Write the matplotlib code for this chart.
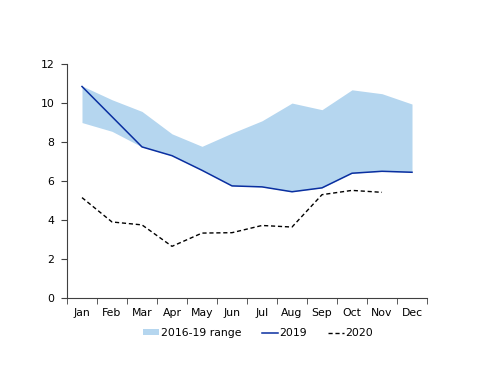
import numpy as np
import matplotlib.pyplot as plt

months = ['Jan', 'Feb', 'Mar', 'Apr', 'May', 'Jun', 'Jul', 'Aug', 'Sep', 'Oct', 'Nov', 'Dec']
range_low = [9.0, 8.55, 7.75, 7.3, 6.55, 5.75, 5.7, 5.45, 5.65, 6.4, 6.5, 6.45]
range_high = [10.88, 10.17, 9.57, 8.42, 7.78, 8.46, 9.09, 10.0, 9.66, 10.68, 10.48, 9.95]
y2019 = [10.85, 9.3, 7.75, 7.3, 6.55, 5.75, 5.7, 5.45, 5.65, 6.4, 6.5, 6.45]
y2020 = [5.15, 3.9, 3.75, 2.65, 3.33, 3.35, 3.72, 3.64, 5.3, 5.52, 5.42]

plt.rcParams['font.size'] = 7.8

fig = plt.figure(figsize=(5, 3.86), dpi=100)
ax = fig.add_axes([0.134, 0.228, 0.72, 0.606])

x = np.arange(len(months))
ax.fill_between(x, range_low, range_high, color='#b5d6ef', lw=0, label='2016-19 range')
ax.plot(x, y2019, color='#0a2fa0', lw=1.1, label='2019')
ax.plot(x[:len(y2020)], y2020, color='black', lw=1.0, ls=(0, (3, 2)), label='2020')

ax.set_xlim(-0.5, 11.5)
ax.set_ylim(0, 12)
ax.set_yticks(range(0, 13, 2))
ax.set_xticks(x)
ax.set_xticklabels(months)
ax.set_xticks(np.arange(-0.5, 12, 1), minor=True)
ax.tick_params(axis='x', which='major', length=0, pad=7)
ax.tick_params(axis='x', which='minor', length=4, direction='out', color='#404040')
ax.tick_params(axis='y', length=4, color='#404040', pad=5)
for s in ['top', 'right']:
    ax.spines[s].set_visible(False)
for s in ['left', 'bottom']:
    ax.spines[s].set_color('#404040')

fig.legend(loc='center', bbox_to_anchor=(0.516, 0.137), ncol=3, frameon=False,
           handlelength=1.5, handleheight=0.5, columnspacing=1.9, handletextpad=0.15)

fig.savefig('out.png', dpi=100)
